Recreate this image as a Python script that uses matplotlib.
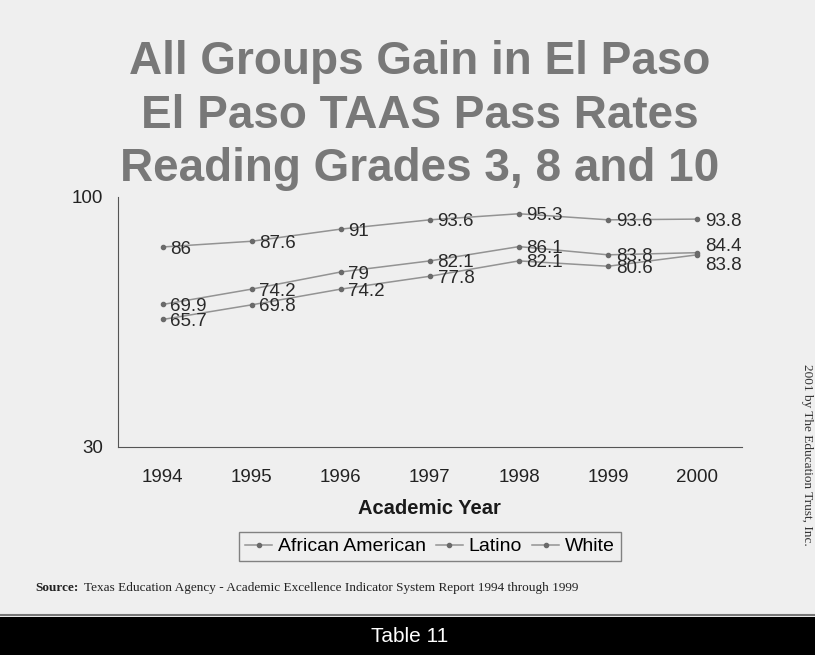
import matplotlib.pyplot as plt

years = ['1994', '1995', '1996', '1997', '1998', '1999', '2000']
african_american = [65.7, 69.8, 74.2, 77.8, 82.1, 80.6, 83.8]
latino = [69.9, 74.2, 79, 82.1, 86.1, 83.8, 84.4]
white = [86, 87.6, 91, 93.6, 95.3, 93.6, 93.8]

series = [('African American', african_american),
          ('Latino', latino),
          ('White', white)]

# small nudges (points) so the crowded 2000 labels sit apart like the original
nudge = {('Latino', 6): 6, ('African American', 6): -6}

bg = '#efefef'
sans = 'Liberation Sans'
fig = plt.figure(figsize=(8.15, 6.55), dpi=100, facecolor=bg)
ax = fig.add_axes([0.145, 0.3176, 0.765, 0.3817], facecolor=bg)

x = list(range(len(years)))
for name, vals in series:
    ax.plot(x, vals, '-', color='#939393', lw=1.1, marker='o', ms=3,
            mfc='#6a6a6a', mec='#6a6a6a', label=name)
    for xi, v in zip(x, vals):
        dy = nudge.get((name, xi), 0)
        ax.annotate(f'{v:g}', (xi, v), xytext=(5.5, -1.5 + dy), textcoords='offset points',
                    ha='left', va='center', fontsize=13.5, color='#2a2a2a',
                    family=sans)

ax.set_xlim(-0.5, len(years) - 0.5)
ax.set_ylim(30, 100)
ax.set_yticks([30, 100])
ax.set_xticks(x)
ax.set_xticklabels(years)
ax.tick_params(length=0, labelsize=13.5, colors='#222222')
ax.tick_params(axis='x', pad=16)
ax.tick_params(axis='y', pad=11)
for lab in ax.get_xticklabels() + ax.get_yticklabels():
    lab.set_family(sans)
ax.spines['top'].set_visible(False)
ax.spines['right'].set_visible(False)
ax.spines['left'].set_color('#555555')
ax.spines['bottom'].set_color('#555555')
ax.set_xlabel('Academic Year', fontsize=14.5, fontweight='bold',
              family=sans, color='#1a1a1a', labelpad=9)

leg = ax.legend(loc='upper center', bbox_to_anchor=(0.5, -0.34), ncol=3,
                frameon=True, fancybox=False, edgecolor='#666666',
                facecolor=bg, prop={'family': sans, 'size': 14},
                handlelength=1.4, handletextpad=0.3, columnspacing=0.5,
                borderpad=0.3, borderaxespad=0)
leg.get_frame().set_linewidth(1.0)

# title block
title_lines = ['All Groups Gain in El Paso', 'El Paso TAAS Pass Rates',
               'Reading Grades 3, 8 and 10']
for i, t in enumerate(title_lines):
    fig.text(0.515, 1 - (62 + i * 53.5) / 655, t, ha='center', va='center',
             fontsize=33, fontweight='bold', color='#787878',
             family=sans)

# source note
fig.text(0.043, 1 - 588 / 655, 'Source:', ha='left', va='center', fontsize=9.5,
         fontweight='bold', color='#222222', family='Liberation Serif')
fig.text(0.103, 1 - 588 / 655,
         'Texas Education Agency - Academic Excellence Indicator System Report 1994 through 1999',
         ha='left', va='center', fontsize=9.5, color='#222222', family='Liberation Serif')

# copyright text on the right
fig.text(0.99, 1 - 455 / 655, '2001 by The Education Trust, Inc.', rotation=-90,
         ha='center', va='center', fontsize=9.5, color='#333333',
         family='Liberation Serif')

# bottom black band with a thin grey rule above it
fig.add_artist(plt.Line2D([0, 1], [40 / 655, 40 / 655], color='#777777', lw=1.5))
band = fig.add_axes([0, 0, 1, 38 / 655], facecolor='black')
band.set_xticks([])
band.set_yticks([])
for s in band.spines.values():
    s.set_visible(False)
band.text(0.503, 0.5, 'Table 11', ha='center', va='center', color='white',
          fontsize=15, family=sans, transform=band.transAxes)

fig.savefig('out.png', dpi=100, facecolor=bg)
